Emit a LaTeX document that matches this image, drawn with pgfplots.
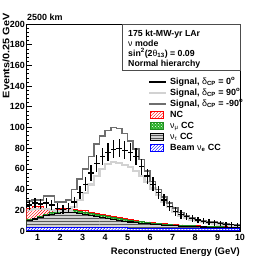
\documentclass[border=0pt]{standalone}
\usepackage{fontspec}
\setmainfont{Liberation Sans}
\usepackage{pgfplots}
\pgfplotsset{compat=1.18}
\usepackage{pgfplotstable}
\usetikzlibrary{patterns}

\definecolor{dkgray}{RGB}{110,110,110}
\definecolor{ltgray}{RGB}{210,210,210}
\definecolor{rootgreen}{RGB}{40,175,40}
\definecolor{rootred}{RGB}{255,0,0}
\definecolor{rootblue}{RGB}{0,0,255}

% left bin edges; sig = delta 0 (points), dk = delta -90, lt = delta +90,
% bl = beam nue CC, nt = +nutau CC, gr = +numu CC, rd = +NC (cumulative)
\pgfplotstableread{
x sig dk lt bl nt gr rd
0.50 25 29 20 3 10 11 22
0.75 27 30 21 3 11.5 12.5 24
1.00 26 30 21 3 13 14 24
1.25 27 34 21 3 15 16 22
1.50 25 34 20 3 16 17.5 21
1.75 22 28 19 3 17 18.5 21
2.00 21 28 19 3 17.5 19.5 21.5
2.25 22 30 19 3 18 20 21.5
2.50 28 40 23 3 17.5 19.8 21
2.75 37 50 30 3 17 19 20.3
3.00 45 60 37 3 16 18 19.5
3.25 56 72 45 3 15 17 18.3
3.50 65 84 53 3 14 16 17.2
3.75 72 92 60 3 13 15 16
4.00 76 97 65 3 12 14 15
4.25 79 100 67 3 11 13 14
4.50 80 99 66 3 10 12 13
4.75 78 94 64 3 9.3 11 12
5.00 76 87 62 2.8 8.6 10.2 11
5.25 72 79 58 2.8 8 9.5 10.2
5.50 62 69 53 2.7 7.4 8.8 9.4
5.75 53 58 47 2.7 6.9 8.2 8.7
6.00 45 48 41 2.6 6.4 7.6 8
6.25 37 40 35 2.6 6 7.1 7.5
6.50 30 33 28 2.5 5.6 6.6 7
6.75 24 27 23 2.5 5.3 6.2 6.5
7.00 19 22 18.5 2.5 5 5.8 6.1
7.25 16 18 15 2.5 4.7 5.5 5.8
7.50 14 15 12.5 2.4 4.5 5.2 5.5
7.75 12 13 10.5 2.4 4.3 5 5.2
8.00 10.5 11 9.5 2.4 4.1 4.8 5
8.25 9.5 10 8.5 2.3 3.9 4.6 4.8
8.50 8.5 9 7.5 2.3 3.7 4.4 4.6
8.75 8 8.5 7 2.3 3.5 4.2 4.4
9.00 7 7.5 6.2 2.2 3.4 4 4.2
9.25 6.5 7 5.8 2.2 3.3 3.9 4.1
9.50 6 6.5 5.3 2.2 3.2 3.8 4
9.75 5.5 6 4.8 2.2 3.1 3.7 3.9
10.00 5.5 6 4.8 2.2 3.1 3.7 3.9
}\hist

\pgfplotstableread{
x y e
0.625 25 5.0
0.875 27 5.2
1.125 26 5.1
1.375 27 5.2
1.625 25 5.0
1.875 22 4.7
2.125 21 4.6
2.375 22 4.7
2.625 28 5.3
2.875 37 6.1
3.125 45 6.7
3.375 56 7.5
3.625 65 8.1
3.875 72 8.5
4.125 76 8.7
4.375 79 8.9
4.625 80 8.9
4.875 78 8.8
5.125 76 8.7
5.375 72 8.5
5.625 62 7.9
5.875 53 7.3
6.125 45 6.7
6.375 37 6.1
6.625 30 5.5
6.875 24 4.9
7.125 19 4.4
7.375 16 4.0
7.625 14 3.7
7.875 12 3.5
8.125 10.5 3.2
8.375 9.5 3.1
8.625 8.5 2.9
8.875 8 2.8
9.125 7 2.6
9.375 6.5 2.5
9.625 6 2.4
9.875 5.5 2.3
}\pts

\tikzset{
  ncstyle/.style={draw=rootred, line width=0.8bp, fill=white, postaction={pattern=north east lines, pattern color=rootred}},
  numustyle/.style={draw=rootgreen!80!black, line width=0.8bp, fill=rootgreen, postaction={pattern=crosshatch dots, pattern color=white}},
  nutaustyle/.style={draw=black, line width=1.2bp, fill=gray!35, postaction={pattern=horizontal lines, pattern color=black!65}},
  nuestyle/.style={draw=rootblue, line width=1.2bp, fill=white, postaction={pattern=north east lines, pattern color=rootblue}},
}
\pgfplotsset{
  linelegend/.style={legend image code/.code={\draw[##1] (0bp,0bp) -- (17bp,0bp);}},
  boxlegend/.style={legend image code/.code={\draw[##1] (1bp,-3.5bp) rectangle (14bp,3.5bp);}},
}

\begin{document}
\begin{tikzpicture}[x=1bp,y=1bp]
\path[use as bounding box] (0,0) rectangle (266,258);
\begin{axis}[
  at={(26.5bp,27bp)}, anchor=south west,
  scale only axis, width=213.5bp, height=207bp,
  xmin=0.5, xmax=10, ymin=0, ymax=200,
  xtick={1,2,...,10}, ytick={0,20,...,200},
  minor x tick num=4, minor y tick num=4,
  tick align=inside, xtick pos=bottom, ytick pos=left,
  major tick length=5bp, minor tick length=2.5bp,
  tick style={black, line width=0.6bp},
  axis line style={line width=0.8bp},
  /pgf/number format/assume math mode=true,
  tick label style={font=\bfseries\fontsize{9}{10}\selectfont},
  yticklabel style={inner xsep=1.5bp},
  xticklabel style={inner ysep=3.5bp},
  legend style={at={(0.569,0.748)}, anchor=north west, draw=none, fill=none,
    inner sep=0pt, row sep=0pt, column sep=2bp,
    font=\bfseries\fontsize{9}{10}\selectfont,
    nodes={inner sep=1bp, text height=7bp, text depth=2bp}},
  legend cell align=left,
]
\addplot[const plot, ncstyle, forget plot] table[x=x, y=rd] {\hist} \closedcycle;
\addplot[const plot, numustyle, forget plot] table[x=x, y=gr] {\hist} \closedcycle;
\addplot[const plot, nutaustyle, forget plot] table[x=x, y=nt] {\hist} \closedcycle;
\addplot[const plot, nuestyle, forget plot] table[x=x, y=bl] {\hist} \closedcycle;
\addplot[const plot, ltgray, line width=2.2bp, forget plot] table[x=x, y=lt] {\hist};
\addplot[const plot, dkgray, line width=1.5bp, forget plot] table[x=x, y=dk] {\hist};
\addplot[draw=none, mark=none, forget plot,
  error bars/.cd, x dir=both, x fixed=0.125, y dir=both, y explicit,
  error mark=none, error bar style={draw=black, line width=1.3bp, solid}]
  table[x=x, y=y, y error=e] {\pts};

\addlegendimage{black, line width=1.5bp, linelegend}
\addlegendentry{Signal, {\mdseries δ}\textsubscript{CP} = 0\textsuperscript{o}}
\addlegendimage{ltgray, line width=2bp, linelegend}
\addlegendentry{Signal, {\mdseries δ}\textsubscript{CP} = 90\textsuperscript{o}}
\addlegendimage{dkgray, line width=1.5bp, linelegend}
\addlegendentry{Signal, {\mdseries δ}\textsubscript{CP} = -90\textsuperscript{o}}
\addlegendimage{ncstyle, boxlegend}
\addlegendentry{NC}
\addlegendimage{numustyle, boxlegend}
\addlegendentry{{\mdseries ν}\textsubscript{\mdseries μ} CC}
\addlegendimage{nutaustyle, boxlegend}
\addlegendentry{{\mdseries ν}\textsubscript{\mdseries τ} CC}
\addlegendimage{nuestyle, boxlegend}
\addlegendentry{Beam {\mdseries ν}\textsubscript{e} CC}
\end{axis}

\draw[line width=0.6bp, gray!60!black] (122.7,187.5) rectangle (240,234);
\begin{scope}[every node/.style={anchor=base west, inner sep=0pt, font=\bfseries\fontsize{8.8}{10}\selectfont}]
\node at (128,222) {175 kt-MW-yr LAr};
\node at (128,212) {{\mdseries ν} mode};
\node at (128,202) {sin\textsuperscript{2}(2{\mdseries θ}\textsubscript{13}) = 0.09};
\node at (128,192) {Normal hierarchy};
\end{scope}

\node[anchor=base west, inner sep=0pt, font=\bfseries\fontsize{9}{10}\selectfont] at (27,238) {2500 km};
\node[rotate=90, xscale=1.15, anchor=east, inner sep=0pt, font=\bfseries\fontsize{9.5}{10}\selectfont] at (6,244.7) {Events/0.25 GeV};
\node[anchor=base east, inner sep=0pt, font=\bfseries\fontsize{9.5}{10}\selectfont] at (240,4) {Reconstructed Energy (GeV)};
\end{tikzpicture}
\end{document}
